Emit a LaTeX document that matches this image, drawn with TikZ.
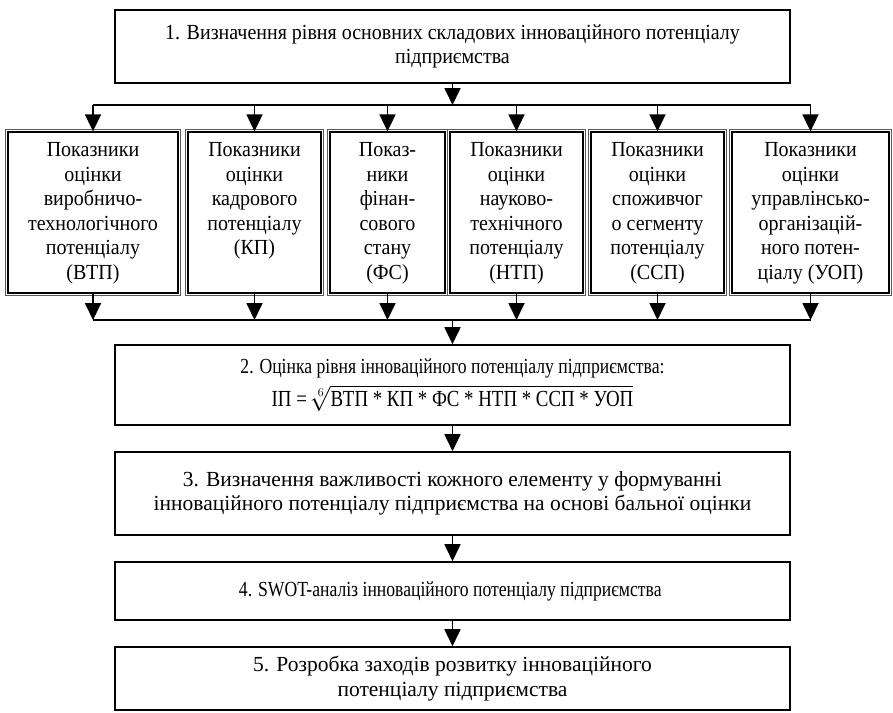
\documentclass[tikz,border=0pt]{standalone}
\usepackage{fontspec}
\setmainfont{Liberation Serif}
\newfontfamily\rowfont[FakeStretch=0.93]{Liberation Serif}
\newfontfamily\condfont[FakeStretch=0.82]{Liberation Serif}
\usetikzlibrary{positioning, arrows.meta}

% text of an indicator box, set from the top
\newcommand{\rowtext}[2]{\parbox[c][140pt][t]{#1}{\centering #2}}

\begin{document}
\begin{tikzpicture}[
    x=1pt, y=-1pt,
    font=\fontsize{21.5}{24.5}\selectfont,
    stage/.style={
        draw, line width=1.6pt, minimum width=675pt, align=center, inner sep=0pt
    },
    indicator/.style={
        draw, line width=1.3pt, minimum height=161pt, inner sep=0pt,
        font=\rowfont\fontsize{21.5}{24.5}\selectfont
    },
    outline/.style={draw, line width=0.6pt, black!65},
    line/.style={draw, line width=1.8pt, -},
    arrow/.style={draw, line width=1.8pt, -{Triangle[width=16pt, length=17pt]}}
]

\useasboundingbox (0,0) rectangle (893,712);

% ==========================================
% STAGE 1
% ==========================================

\node[stage, minimum height=73pt, font=\rowfont\fontsize{21.5}{24.5}\selectfont] (Stage1) at (452.5, 46.5) {
    1. Визначення рівня основних складових інноваційного потенціалу \\
    підприємства
};

\coordinate (SplitTop) at (452.5, 105);
\draw[arrow] (Stage1.south) -- (SplitTop);

% ==========================================
% INDICATORS
% ==========================================

\node[indicator, minimum width=170pt] (VTP) at (93, 212.5) {
    \rowtext{168pt}{Показники\\ оцінки\\ виробничо-\\ технологічного\\ потенціалу\\ (ВТП)}
};
\node[indicator, minimum width=133pt] (KP) at (254.5, 212.5) {
    \rowtext{130pt}{Показники\\ оцінки\\ кадрового\\ потенціалу\\ (КП)}
};
\node[indicator, minimum width=115pt] (FS) at (387.5, 212.5) {
    \rowtext{112pt}{Показ-\\ ники\\ фінан-\\ сового\\ стану\\ (ФС)}
};
\node[indicator, minimum width=133pt] (NTP) at (516.5, 212.5) {
    \rowtext{130pt}{Показники\\ оцінки\\ науково-\\ технічного\\ потенціалу\\ (НТП)}
};
\node[indicator, minimum width=133pt] (SSP) at (657.5, 212.5) {
    \rowtext{130pt}{Показники\\ оцінки\\ споживчог\\ о сегменту\\ потенціалу\\ (ССП)}
};
\node[indicator, minimum width=157pt] (UOP) at (810.5, 212.5) {
    \rowtext{155pt}{Показники\\ оцінки\\ управлінсько-\\ організацій-\\ ного потен-\\ ціалу (УОП)}
};

% thin outer frame of each indicator box
\foreach \n in {VTP, KP, FS, NTP, SSP, UOP}
    \draw[outline] ([shift={(-2,-2)}]\n.north west) rectangle ([shift={(2,2)}]\n.south east);

\draw[line] (VTP.north |- SplitTop) -- (UOP.north |- SplitTop);
\foreach \n in {VTP, KP, FS, NTP, SSP, UOP}
    \draw[arrow] (\n.north |- SplitTop) -- (\n.north);

\coordinate (JoinBottom) at (452.5, 320);
\foreach \n in {VTP, KP, FS, NTP, SSP, UOP}
    \draw[arrow] (\n.south) -- (\n.south |- JoinBottom);
\draw[line] (VTP.south |- JoinBottom) -- (UOP.south |- JoinBottom);

% ==========================================
% STAGES 2 - 5
% ==========================================

\node[stage, minimum height=80pt] (Stage2) at (452.5, 385) {
    {\condfont 2. Оцінка рівня інноваційного потенціалу підприємства:} \\[6pt]
    {\condfont\fontsize{23}{26}\selectfont ІП =\hspace{4pt}$\sqrt[6]{\mbox{ВТП * КП * ФС * НТП * ССП * УОП}}$}
};
\draw[arrow] (JoinBottom) -- (Stage2.north);

\node[stage, minimum height=83pt] (Stage3) at (452.5, 493.5) {
    3. Визначення важливості кожного елементу у формуванні \\
    інноваційного потенціалу підприємства на основі бальної оцінки
};
\draw[arrow] (Stage2) -- (Stage3);

\node[stage, minimum height=58pt, font=\condfont\fontsize{21.5}{24.5}\selectfont] (Stage4) at (452.5, 591) {
    4. SWOT-аналіз інноваційного потенціалу підприємства
};
\draw[arrow] (Stage3) -- (Stage4);

\node[stage, minimum height=63pt] (Stage5) at (452.5, 678.5) {
    5. Розробка заходів розвитку інноваційного \\
    потенціалу підприємства
};
\draw[arrow] (Stage4) -- (Stage5);

\end{tikzpicture}
\end{document}
